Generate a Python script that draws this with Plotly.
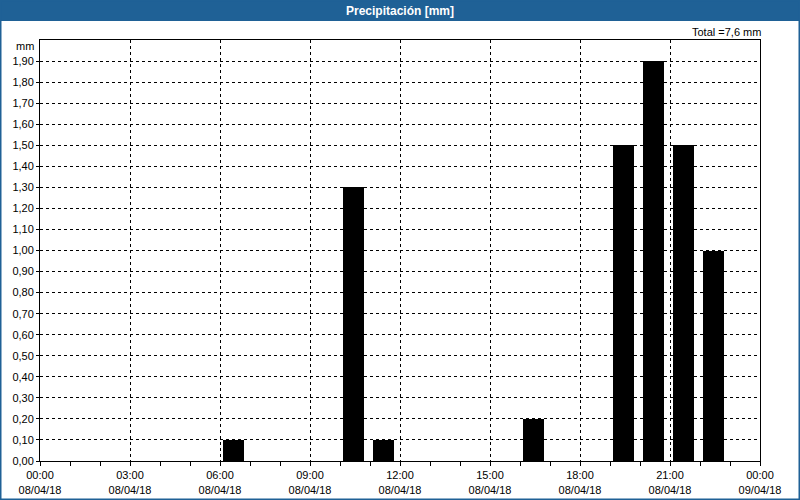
import plotly.graph_objects as go

# Data
hours = [6, 10, 11, 16, 19, 20, 21, 22]          # hour start of each bar (08/04/18)
rain_mm = [0.1, 1.3, 0.1, 0.2, 1.5, 1.9, 1.5, 1.0]
xtick_vals = [0, 3, 6, 9, 12, 15, 18, 21, 24]
xtick_text = ["00:00<br>08/04/18", "03:00<br>08/04/18", "06:00<br>08/04/18",
              "09:00<br>08/04/18", "12:00<br>08/04/18", "15:00<br>08/04/18",
              "18:00<br>08/04/18", "21:00<br>08/04/18", "00:00<br>09/04/18"]
ytick_vals = [round(i * 0.1, 2) for i in range(20)]
title_text = "Precipitación [mm]"
total_text = "Total =7,6 mm"

W, H = 800, 500
L, R, T, B = 40, 40, 40, 39
pw, ph = W - L - R, H - T - B
def px(x): return (x - L) / pw
def py(y): return (H - B - y) / ph

blue = "#1f6196"
font = "Liberation Sans, DejaVu Sans, sans-serif"

fig = go.Figure()
fig.add_trace(go.Bar(
    x=[h + 0.45 for h in hours], y=rain_mm, width=0.7,
    marker=dict(color="#000000", line=dict(width=0)),
    hoverinfo="x+y", showlegend=False,
))

fig.update_layout(
    width=W, height=H,
    margin=dict(l=L, r=R, t=T, b=B, pad=0, autoexpand=False),
    paper_bgcolor="white", plot_bgcolor="white",
    separators=", ",
    font=dict(family=font, size=11, color="#000000"),
    bargap=0,
    xaxis=dict(
        range=[0, 24], tickmode="array", tickvals=xtick_vals, ticktext=xtick_text,
        automargin=False,
        showgrid=True, gridcolor="#000000", griddash="3px,3px", gridwidth=1,
        ticks="outside", ticklen=4, tickcolor="#000000",
        minor=dict(dtick=1, ticks="outside", ticklen=4, tickcolor="#000000", showgrid=False),
        showline=True, linecolor="#000000", linewidth=1, mirror=True,
        zeroline=False, tickfont=dict(size=11, family=font),
    ),
    yaxis=dict(
        range=[0, 2.0], tickmode="array", tickvals=ytick_vals, tickformat=".2f",
        automargin=False,
        showgrid=True, gridcolor="#000000", griddash="3px,3px", gridwidth=1,
        ticks="outside", ticklen=3, tickcolor="#000000",
        showline=True, linecolor="#000000", linewidth=1, mirror=True,
        zeroline=False, tickfont=dict(size=11, family=font),
    ),
    shapes=[
        # title bar
        dict(type="rect", xref="paper", yref="paper", x0=px(0), x1=px(W), y0=py(21), y1=py(0),
             fillcolor=blue, line=dict(width=0), layer="above"),
        # outer blue frame
        dict(type="rect", xref="paper", yref="paper", x0=px(0), x1=px(W), y0=py(H), y1=py(0),
             fillcolor="rgba(0,0,0,0)", line=dict(color=blue, width=3), layer="above"),
    ],
    annotations=[
        dict(text="<b>" + title_text + "</b>", xref="paper", yref="paper", x=px(W / 2), y=py(10.5),
             xanchor="center", yanchor="middle", showarrow=False,
             font=dict(color="white", size=12, family=font)),
        dict(text=total_text, xref="paper", yref="paper", x=px(763), y=py(32),
             xanchor="right", yanchor="middle", showarrow=False,
             font=dict(size=11, family=font)),
        dict(text="mm", xref="paper", yref="paper", x=px(36), y=py(46),
             xanchor="right", yanchor="middle", showarrow=False,
             font=dict(size=11, family=font)),
    ],
)

fig.write_html("out.html", config={"displayModeBar": False},
               post_script="document.body.style.margin='0';document.body.style.overflow='hidden';")
